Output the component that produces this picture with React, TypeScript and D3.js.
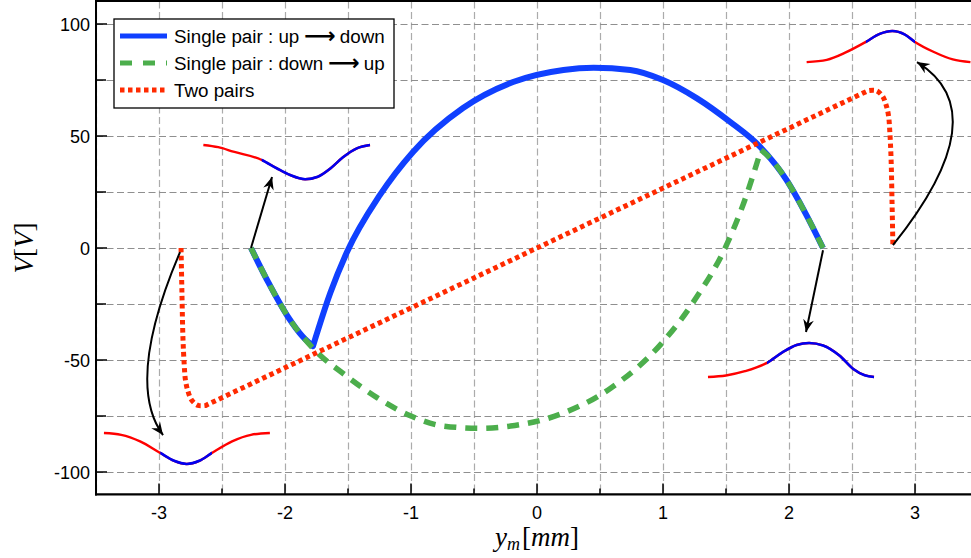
import React from 'react';
import * as d3 from 'd3';

const W = 971;
const H = 558;

const xMajorTicks = [-3, -2, -1, 0, 1, 2, 3];
const xMinorTicks = [-3.5, -2.5, -1.5, -0.5, 0.5, 1.5, 2.5, 3.5];
const yMajorTicks = [-100, -50, 0, 50, 100];
const yMinorTicks = [-75, -25, 25, 75];

// Single pair : up -> down (cusp at index 4)
const upDownX = [-2.27, -2.13, -1.98, -1.86, -1.778, -1.64, -1.508, -1.246, -0.984, -0.587, -0.19, 0.21, 0.45, 0.74, 1.0, 1.27, 1.53, 1.77, 1.98, 2.13, 2.27];
const upDownY = [0, -15.6, -30.4, -39.5, -43.8, -20, -1.8, 23.7, 42.9, 62.5, 74.1, 79.5, 80.5, 79.5, 75, 66.8, 56.4, 45.2, 30.4, 15.6, 0];
const upDownCusp = 4;

// Single pair : down -> up (cusp at index 16)
const downUpX = [-2.27, -2.13, -1.98, -1.77, -1.53, -1.27, -1.0, -0.74, -0.45, -0.21, 0.19, 0.587, 0.984, 1.246, 1.508, 1.64, 1.778, 1.86, 1.98, 2.13, 2.27];
const downUpY = [0, -15.6, -30.4, -45.2, -56.4, -66.8, -75, -79.5, -80.5, -79.5, -74.1, -62.5, -42.9, -23.7, 1.8, 20, 43.8, 39.5, 30.4, 15.6, 0];
const downUpCusp = 16;

// Two pairs
const twoPairsX = [-2.825, -2.818, -2.81, -2.8, -2.79, -2.77, -2.74, -2.69, -2.63, 2.63, 2.69, 2.74, 2.77, 2.79, 2.8, 2.81, 2.818, 2.825];
const twoPairsY = [0, -20, -40, -52, -59, -64, -68, -70.3, -70.3, 70.3, 70.3, 68, 64, 59, 52, 40, 20, 0];

// Inset waveforms (red curve, blue between blueFrom and blueTo)
const insetTLX = [-2.648, -2.53, -2.41, -2.185, -2.066, -1.96, -1.84, -1.74, -1.64, -1.54, -1.43, -1.325];
const insetTLY = [46, 45, 43, 39.3, 35.6, 32.6, 30.7, 31.8, 35.5, 40.5, 44.5, 46];
const insetTLBlue = [-2.185, -1.325];

const insetBLX = [-3.437, -3.3, -3.15, -2.99, -2.88, -2.78, -2.68, -2.58, -2.42, -2.27, -2.12];
const insetBLY = [-82.6, -83.4, -86.3, -91.5, -95, -96.4, -95, -91.5, -86.3, -83.4, -82.6];
const insetBLBlue = [-2.99, -2.58];

const insetTRX = [2.14, 2.3, 2.45, 2.61, 2.72, 2.82, 2.92, 3.0, 3.15, 3.3, 3.44];
const insetTRY = [83, 84, 87.3, 92, 95.6, 96.9, 95.3, 92, 87.5, 84.2, 83];
const insetTRBlue = [2.61, 3.0];

const insetBRX = [1.357, 1.5, 1.65, 1.825, 1.95, 2.06, 2.16, 2.27, 2.4, 2.51, 2.6, 2.675];
const insetBRY = [-57.6, -56.9, -55, -51.3, -46.5, -43.3, -42.4, -43.5, -48, -54, -56.8, -57.6];
const insetBRBlue = [1.825, 2.675];

// Arrows: start, optional control, end (data coords)
const arrows: { p0: [number, number]; c?: [number, number]; p1: [number, number] }[] = [
  { p0: [-2.27, 0], p1: [-2.103, 31.7] },
  { p0: [-2.833, -1.8], c: [-3.274, -60], p1: [-2.968, -83.5] },
  { p0: [2.27, -1], p1: [2.135, -37.5] },
  { p0: [2.825, 1.3], c: [3.667, 60.5], p1: [3.016, 83] },
];

const legendLabels = ['Single pair : up', 'Single pair : down', 'Two pairs'];
const legendTails = ['down', 'up', ''];

const BLUE = '#1040ff';
const GREEN = '#4cae4c';
const RED = '#ff2a00';

export default function App() {
  const left = 96, right = 978, top = 1.6, bottom = 494.4;
  const x = d3.scaleLinear().domain([-3.5, 3.5]).range([left, right]);
  const y = d3.scaleLinear().domain([-110, 110]).range([bottom, top]);

  const zip = (xs: number[], ys: number[]) => xs.map((v, i) => [v, ys[i]] as [number, number]);
  const line = d3.line<[number, number]>().x(d => x(d[0])).y(d => y(d[1]));
  const mono = d3.line<[number, number]>().x(d => x(d[0])).y(d => y(d[1])).curve(d3.curveMonotoneX);
  const smooth = d3.line<[number, number]>().x(d => x(d[0])).y(d => y(d[1])).curve(d3.curveCatmullRom.alpha(0.5));

  const twoSeg = (xs: number[], ys: number[], k: number) =>
    mono(zip(xs.slice(0, k + 1), ys.slice(0, k + 1)))! + mono(zip(xs.slice(k), ys.slice(k)))!.replace(/^M/, 'L');

  const upDown = twoSeg(upDownX, upDownY, upDownCusp);
  const downUp = twoSeg(downUpX, downUpY, downUpCusp);
  const twoA = smooth(zip(twoPairsX.slice(0, 9), twoPairsY.slice(0, 9)))!;
  const twoB = line(zip(twoPairsX.slice(8, 10), twoPairsY.slice(8, 10)))!.replace(/^M/, 'L');
  const twoC = smooth(zip(twoPairsX.slice(9), twoPairsY.slice(9)))!.replace(/^M/, 'L');
  const twoPairs = twoA + twoB + twoC;

  const insets = [
    { xs: insetTLX, ys: insetTLY, blue: insetTLBlue },
    { xs: insetBLX, ys: insetBLY, blue: insetBLBlue },
    { xs: insetTRX, ys: insetTRY, blue: insetTRBlue },
    { xs: insetBRX, ys: insetBRY, blue: insetBRBlue },
  ];

  const gridColor = '#8f8f8f';
  const font = '"Liberation Sans", Arial, Helvetica, sans-serif';
  const serif = '"Liberation Serif", "Times New Roman", serif';

  const arrowPath = (a: typeof arrows[number]) => {
    const [x0, y0] = [x(a.p0[0]), y(a.p0[1])];
    const [x1, y1] = [x(a.p1[0]), y(a.p1[1])];
    if (a.c) {
      const [cx, cy] = [x(a.c[0]), y(a.c[1])];
      return `M${x0},${y0}Q${cx},${cy} ${x1},${y1}`;
    }
    return `M${x0},${y0}L${x1},${y1}`;
  };

  const legX = 114, legY = 19, legW = 280, legH = 89;
  const rowY = [36, 63, 90];

  return (
    <svg width={W} height={H} style={{ position: 'absolute', left: 0, top: 0, background: '#fff' }}>
      <defs>
        <clipPath id="plot">
          <rect x={left} y={top} width={right - left} height={bottom - top} />
        </clipPath>
        {insets.map((ins, i) => (
          <clipPath id={'blueclip' + i} key={'bc' + i}>
            <rect x={x(ins.blue[0])} y={0} width={x(ins.blue[1]) - x(ins.blue[0])} height={H} />
          </clipPath>
        ))}
        <marker id="ah" viewBox="-13 -6 14 12" markerWidth={14} markerHeight={12} refX={0} refY={0} orient="auto" markerUnits="userSpaceOnUse">
          <path d="M0,0 L-12.5,-5.4 L-8.5,0 L-12.5,5.4 Z" fill="#000" />
        </marker>
      </defs>
      <rect x={0} y={0} width={W} height={H} fill="#fff" />
      {/* grid */}
      <g clipPath="url(#plot)">
        {[...xMajorTicks, ...xMinorTicks].map(t => (
          <line key={'gx' + t} x1={Math.round(x(t)) + 0.5} x2={Math.round(x(t)) + 0.5} y1={top} y2={bottom} stroke={gridColor} strokeOpacity={0.75} strokeWidth={1.2} strokeDasharray="7,3.5" />
        ))}
        {[...yMajorTicks, ...yMinorTicks].map(t => (
          <line key={'gy' + t} x1={left} x2={right} y1={Math.round(y(t)) + 0.5} y2={Math.round(y(t)) + 0.5} stroke={gridColor} strokeWidth={1.2} strokeDasharray="7,3.5" />
        ))}
      </g>
      {/* curves */}
      <g clipPath="url(#plot)" fill="none">
        <path d={upDown} stroke={BLUE} strokeWidth={6} strokeLinejoin="round" />
        <path d={downUp} stroke={GREEN} strokeWidth={5.5} strokeDasharray="12,9" />
        <path d={twoPairs} stroke={RED} strokeWidth={5} strokeDasharray="4.5,3.5" />
        {insets.map((ins, i) => {
          const d = mono(zip(ins.xs, ins.ys))!;
          return (
            <g key={'in' + i}>
              <path d={d} stroke="#ff0000" strokeWidth={2.4} />
              <path d={d} stroke="#0000f0" strokeWidth={2.6} clipPath={`url(#blueclip${i})`} />
            </g>
          );
        })}
        {arrows.map((a, i) => (
          <path key={'ar' + i} d={arrowPath(a)} stroke="#000" strokeWidth={2} markerEnd="url(#ah)" />
        ))}
      </g>
      {/* axes */}
      <line x1={left} x2={W} y1={1} y2={1} stroke="#000" strokeWidth={2} />
      <line x1={left} x2={left} y1={0} y2={bottom + 1} stroke="#000" strokeWidth={2} />
      <line x1={left - 1} x2={W} y1={bottom} y2={bottom} stroke="#000" strokeWidth={2.2} />
      {xMajorTicks.map(t => (
        <g key={'xt' + t}>
          <line x1={x(t)} x2={x(t)} y1={bottom} y2={bottom - 11} stroke="#000" strokeWidth={1.5} />
          <text x={x(t)} y={519} textAnchor="middle" fontFamily={font} fontSize={18} fill="#000">{t < 0 ? '-' + Math.abs(t) : String(t)}</text>
        </g>
      ))}
      {xMinorTicks.map(t => (
        <line key={'xm' + t} x1={x(t)} x2={x(t)} y1={bottom} y2={bottom - 6} stroke="#000" strokeWidth={1.5} />
      ))}
      {yMajorTicks.map(t => (
        <g key={'yt' + t}>
          <line x1={left} x2={left + 11} y1={y(t)} y2={y(t)} stroke="#000" strokeWidth={1.5} />
          <text x={90} y={y(t) + 6.5} textAnchor="end" fontFamily={font} fontSize={18} fill="#000">{t < 0 ? '-' + Math.abs(t) : String(t)}</text>
        </g>
      ))}
      {yMinorTicks.map(t => (
        <line key={'ym' + t} x1={left} x2={left + 10} y1={y(t)} y2={y(t)} stroke="#000" strokeWidth={1.5} />
      ))}
      {/* axis labels */}
      <text transform="translate(33,248) rotate(-90)" textAnchor="middle" fontFamily={serif} fontSize={27} fill="#000">
        <tspan fontStyle="italic">V</tspan>
        <tspan>[</tspan>
        <tspan fontStyle="italic">V</tspan>
        <tspan>]</tspan>
      </text>
      <text x={537} y={546} textAnchor="middle" fontFamily={serif} fontSize={27} fill="#000">
        <tspan fontStyle="italic">y</tspan>
        <tspan fontStyle="italic" fontSize={18} dy={4}>m</tspan>
        <tspan dy={-4} dx={2}>[</tspan>
        <tspan fontStyle="italic">mm</tspan>
        <tspan>]</tspan>
      </text>
      {/* legend */}
      <g>
        <rect x={legX} y={legY} width={legW} height={legH} fill="#fff" stroke="#000" strokeWidth={1.3} />
        <line x1={120} x2={167} y1={rowY[0]} y2={rowY[0]} stroke={BLUE} strokeWidth={5} />
        <line x1={120} x2={167} y1={rowY[1]} y2={rowY[1]} stroke={GREEN} strokeWidth={5} strokeDasharray="12,11" />
        <line x1={120} x2={167} y1={rowY[2]} y2={rowY[2]} stroke={RED} strokeWidth={5} strokeDasharray="4.5,3.5" />
        {legendLabels.map((lab, i) => (
          <text key={'lg' + i} x={174} y={rowY[i] + 6.5} fontFamily={font} fontSize={18.8} fill="#000">
            {lab}
            {legendTails[i] ? (
              <>
                <tspan fontFamily="DejaVu Sans" fontWeight="bold" fontSize={22} dx={5}>⟶</tspan>
                <tspan dx={4}>{legendTails[i]}</tspan>
              </>
            ) : null}
          </text>
        ))}
      </g>
    </svg>
  );
}
